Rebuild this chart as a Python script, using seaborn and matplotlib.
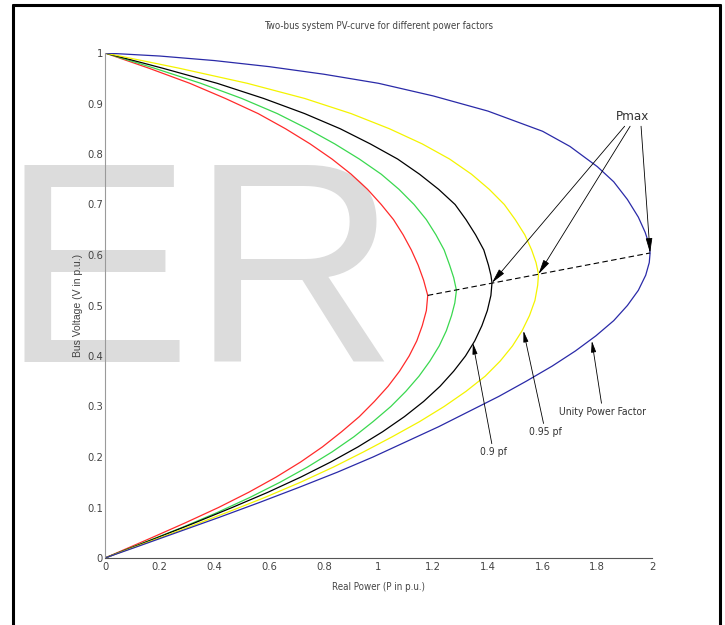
import matplotlib
matplotlib.use("Agg")
import matplotlib.pyplot as plt
from matplotlib.lines import Line2D
import pandas as pd
import seaborn as sns

# PV curves: real power (p.u.) and bus voltage (p.u.)
red_v = [1.00, 0.97, 0.94, 0.91, 0.88, 0.85, 0.82, 0.79, 0.76, 0.73, 0.70, 0.67, 0.64, 0.61, 0.58, 0.55, 0.52,
         0.49, 0.46, 0.43, 0.40, 0.37, 0.34, 0.31, 0.28, 0.25, 0.22, 0.19, 0.16, 0.13, 0.10, 0.07, 0.04, 0.00]
red_p = [0.00, 0.16, 0.31, 0.44, 0.56, 0.66, 0.75, 0.83, 0.90, 0.96, 1.01, 1.055, 1.09, 1.12, 1.145, 1.165, 1.18,
         1.175, 1.16, 1.14, 1.112, 1.077, 1.035, 0.985, 0.93, 0.865, 0.795, 0.715, 0.625, 0.525, 0.415, 0.295, 0.17, 0.00]

green_v = [1.00, 0.97, 0.94, 0.91, 0.88, 0.85, 0.82, 0.79, 0.76, 0.73, 0.70, 0.67, 0.64, 0.61, 0.58, 0.555, 0.53,
           0.505, 0.48, 0.45, 0.42, 0.39, 0.36, 0.33, 0.30, 0.27, 0.24, 0.21, 0.18, 0.15, 0.12, 0.09, 0.06, 0.03, 0.00]
green_p = [0.00, 0.18, 0.35, 0.50, 0.63, 0.74, 0.84, 0.93, 1.01, 1.075, 1.13, 1.175, 1.21, 1.24, 1.26, 1.275, 1.285,
           1.279, 1.267, 1.248, 1.222, 1.188, 1.148, 1.10, 1.045, 0.98, 0.91, 0.83, 0.74, 0.64, 0.53, 0.41, 0.28, 0.14, 0.00]

black_v = [1.00, 0.97, 0.94, 0.91, 0.88, 0.85, 0.82, 0.79, 0.76, 0.73, 0.70, 0.67, 0.64, 0.61, 0.58, 0.56, 0.545,
           0.52, 0.49, 0.46, 0.43, 0.40, 0.37, 0.34, 0.31, 0.28, 0.25, 0.22, 0.19, 0.16, 0.13, 0.10, 0.07, 0.04, 0.00]
black_p = [0.00, 0.21, 0.41, 0.58, 0.73, 0.86, 0.97, 1.07, 1.15, 1.22, 1.28, 1.32, 1.355, 1.385, 1.402, 1.411, 1.415,
           1.411, 1.398, 1.378, 1.352, 1.318, 1.275, 1.225, 1.165, 1.095, 1.015, 0.925, 0.825, 0.715, 0.595, 0.465, 0.33, 0.19, 0.00]

yellow_v = [1.00, 0.97, 0.94, 0.91, 0.88, 0.85, 0.82, 0.79, 0.76, 0.73, 0.70, 0.67, 0.64, 0.61, 0.585, 0.562,
            0.54, 0.51, 0.48, 0.45, 0.42, 0.39, 0.36, 0.33, 0.30, 0.27, 0.24, 0.21, 0.18, 0.15, 0.12, 0.09, 0.06, 0.03, 0.00]
yellow_p = [0.00, 0.27, 0.52, 0.73, 0.90, 1.04, 1.16, 1.26, 1.34, 1.405, 1.46, 1.50, 1.535, 1.56, 1.576, 1.585,
            1.582, 1.572, 1.552, 1.525, 1.49, 1.445, 1.39, 1.32, 1.24, 1.15, 1.05, 0.945, 0.835, 0.715, 0.585, 0.445, 0.30, 0.15, 0.00]

blue_p = [0.00, 0.20, 0.40, 0.60, 0.80, 1.00, 1.20, 1.40, 1.60, 1.70, 1.80, 1.86, 1.91, 1.95, 1.975, 1.99, 1.993,
          1.99, 1.977, 1.95, 1.91, 1.86, 1.795, 1.72, 1.635, 1.54, 1.44, 1.33, 1.22, 1.10, 0.98, 0.85, 0.71, 0.565, 0.415, 0.26, 0.105, 0.00]
blue_v = [1.00, 0.994, 0.985, 0.973, 0.958, 0.94, 0.915, 0.885, 0.845, 0.815, 0.775, 0.745, 0.71, 0.675, 0.645, 0.62, 0.604,
          0.585, 0.56, 0.53, 0.50, 0.47, 0.44, 0.41, 0.38, 0.35, 0.32, 0.29, 0.26, 0.23, 0.20, 0.17, 0.14, 0.11, 0.08, 0.05, 0.02, 0.00]

# locus of the nose points
nose_p = [1.18, 1.993]
nose_v = [0.52, 0.604]

x_ticks = [0, 0.2, 0.4, 0.6, 0.8, 1, 1.2, 1.4, 1.6, 1.8, 2]
y_ticks = [0, 0.1, 0.2, 0.3, 0.4, 0.5, 0.6, 0.7, 0.8, 0.9, 1]

sns.set_style("white")
plt.rcParams["font.family"] = ["DejaVu Sans"]
plt.rcParams["font.stretch"] = "condensed"
narrow = dict(family=["DejaVu Sans"], stretch="condensed")

fig = plt.figure(figsize=(7.25, 6.25), dpi=100)
ax = fig.add_axes([105 / 725, 1 - 558 / 625, 547 / 725, 505 / 625])
ax.patch.set_alpha(0)
ax.set_zorder(2)

# watermark behind everything
fig.text(0.0, 1 - 362 / 625, "ER", fontsize=206, color="#dcdcdc",
         family=["Liberation Sans", "DejaVu Sans"], stretch="normal", zorder=0, va="baseline", ha="left")

curves = [(red_p, red_v, "#ff2a2a"), (green_p, green_v, "#3ad84f"),
          (black_p, black_v, "#000000"), (yellow_p, yellow_v, "#f4f400"),
          (blue_p, blue_v, "#2a2aa8")]
for p, v, c in curves:
    df = pd.DataFrame({"P": p, "V": v})
    sns.lineplot(data=df, x="P", y="V", sort=False, estimator=None, color=c, lw=0.9, ax=ax)

sns.lineplot(x=nose_p, y=nose_v, sort=False, estimator=None, color="black", lw=0.8,
             linestyle=(0, (5, 3)), ax=ax)

ax.set_xlim(0, 2)
ax.set_ylim(0, 1)
ax.set_xticks(x_ticks)
ax.set_xticklabels([f"{t:g}" for t in x_ticks], **narrow)
ax.set_yticks(y_ticks)
ax.set_yticklabels([f"{t:g}" for t in y_ticks], **narrow)
ax.tick_params(axis="x", direction="in", length=7.5, width=0.8, color="#555555",
               labelsize=8, labelcolor="#444444", pad=3)
ax.tick_params(axis="y", direction="in", length=3.5, width=0.8, color="#555555",
               labelsize=8, labelcolor="#444444", pad=1.5)
ax.spines["top"].set_visible(False)
ax.spines["right"].set_visible(False)
ax.spines["left"].set_color("#9a9a9a")
ax.spines["bottom"].set_color("#555555")

ax.set_title("Two-bus system PV-curve for different power factors", fontsize=7,
             color="#444444", pad=17, **narrow)
ax.set_xlabel("Real Power (P in p.u.)", fontsize=7, color="#444444", labelpad=7, **narrow)
ax.set_ylabel("Bus Voltage (V in p.u.)", fontsize=7.5, color="#444444", labelpad=3,
              family=["Liberation Sans", "DejaVu Sans"], stretch="normal")

arrow = dict(arrowstyle="-|>,head_length=0.9,head_width=0.2", color="black", lw=0.6,
             shrinkA=0, shrinkB=0)
# Pmax arrows
ax.text(1.93, 0.875, "Pmax", fontsize=9.5, ha="center", va="center", color="#333333", **narrow)
for tip, start in [((1.415, 0.545), (1.90, 0.855)), ((1.585, 0.562), (1.92, 0.855)),
                   ((1.993, 0.604), (1.96, 0.855))]:
    ax.annotate("", xy=tip, xytext=start, arrowprops=arrow)

ax.annotate("0.9 pf", xy=(1.345, 0.426), xytext=(1.42, 0.21), fontsize=7.5,
            ha="center", va="center", color="#333333", arrowprops=arrow, **narrow)
ax.annotate("0.95 pf", xy=(1.53, 0.45), xytext=(1.61, 0.25), fontsize=7.5,
            ha="center", va="center", color="#333333", arrowprops=arrow, **narrow)
ax.annotate("Unity Power Factor", xy=(1.78, 0.43), xytext=(1.82, 0.29), fontsize=7.5,
            ha="center", va="center", color="#333333", arrowprops=arrow, **narrow)

# black frame around the image
for xs, ys in [([13 / 725, 13 / 725], [0, 1 - 5 / 625]), ([720 / 725, 720 / 725], [0, 1 - 5 / 625]),
               ([13 / 725, 720 / 725], [1 - 5 / 625, 1 - 5 / 625])]:
    fig.add_artist(Line2D(xs, ys, transform=fig.transFigure, color="black", lw=2.2))

fig.savefig("out.png", dpi=100)
